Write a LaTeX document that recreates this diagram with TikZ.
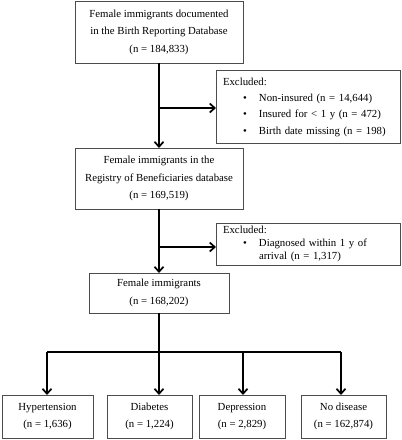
\documentclass[tikz,border=0pt]{standalone}
\usepackage{fontspec}
\setmainfont{Liberation Serif}
\usetikzlibrary{arrows.meta,calc}
\begin{document}
\begin{tikzpicture}[x=1pt,y=-1pt,
  every node/.style={inner sep=0pt,outer sep=0pt},
  box/.style={draw=black!70,line width=0.8pt,align=center,
    font=\fontsize{10.8pt}{17.5pt}\selectfont},
  exbox/.style={draw=black!70,line width=0.8pt,anchor=north west,
    inner xsep=7pt,text width=170pt,font=\fontsize{10.8pt}{16.3pt}\selectfont},
  arr/.style={line width=1.7pt,-{Straight Barb[length=5pt,width=9pt,line width=1.7pt]}},
  ln/.style={line width=1.7pt}]
\useasboundingbox (0,0) rectangle (402,440);
\node[box,minimum width=168,minimum height=62] (b1) at (159,32)
  {Female immigrants documented\\in the Birth Reporting Database\\(n = 184,833)};
\node[box,minimum width=168,minimum height=61] (b2) at (159,178.5)
  {Female immigrants in the\\Registry of Beneficiaries database\\(n = 169,519)};
\node[box,minimum width=140,minimum height=40] (b3) at (159,293)
  {Female immigrants\\(n = 168,202)};
\node[exbox,minimum width=184,minimum height=73] (e1) at (216,70)
  {\begin{tabular}{@{}p{20pt}@{}p{16pt}@{}l@{}}
   \multicolumn{3}{@{}l@{}}{Excluded:}\\
   & • & Non-insured (n = 14,644)\\
   & • & Insured for < 1 y (n = 472)\\
   & • & Birth date missing (n = 198)
   \end{tabular}};
\node[exbox,minimum width=184,minimum height=42,
  font=\fontsize{10.8pt}{12.8pt}\selectfont] (e2) at (216,223)
  {\begin{tabular}{@{}p{20pt}@{}p{16pt}@{}l@{}}
   \multicolumn{3}{@{}l@{}}{Excluded:}\\
   & • & Diagnosed within 1 y of\\
   & & arrival (n = 1,317)
   \end{tabular}};
\node[box,minimum width=91,minimum height=43] (d1) at (47.5,416.5) {Hypertension\\(n = 1,636)};
\node[box,minimum width=85,minimum height=43] (d2) at (149.5,416.5) {Diabetes\\(n = 1,224)};
\node[box,minimum width=86,minimum height=43] (d3) at (242,416.5) {Depression\\(n = 2,829)};
\node[box,minimum width=85,minimum height=43] (d4) at (343.5,416.5) {No disease\\(n = 162,874)};
\coordinate (j1) at (159,108);
\coordinate (j2) at (159,247);
\coordinate (h) at (159,352);
\coordinate (hl) at (47,352);
\coordinate (hr) at (341,352);
\coordinate (hd) at (243,352);
\draw[arr] (b1.south) -- (b2.north);
\draw[arr] (j1) -- (j1 -| e1.west);
\draw[arr] (b2.south) -- (b3.north);
\draw[arr] (j2) -- (j2 -| e2.west);
\draw[ln] (b3.south) -- (h);
\draw[ln] (hl) -- (hr);
\draw[arr] (hl) -- (hl |- d1.north);
\draw[arr] (h) -- (h |- d2.north);
\draw[arr] (hd) -- (hd |- d3.north);
\draw[arr] (hr) -- (hr |- d4.north);
\end{tikzpicture}
\end{document}
